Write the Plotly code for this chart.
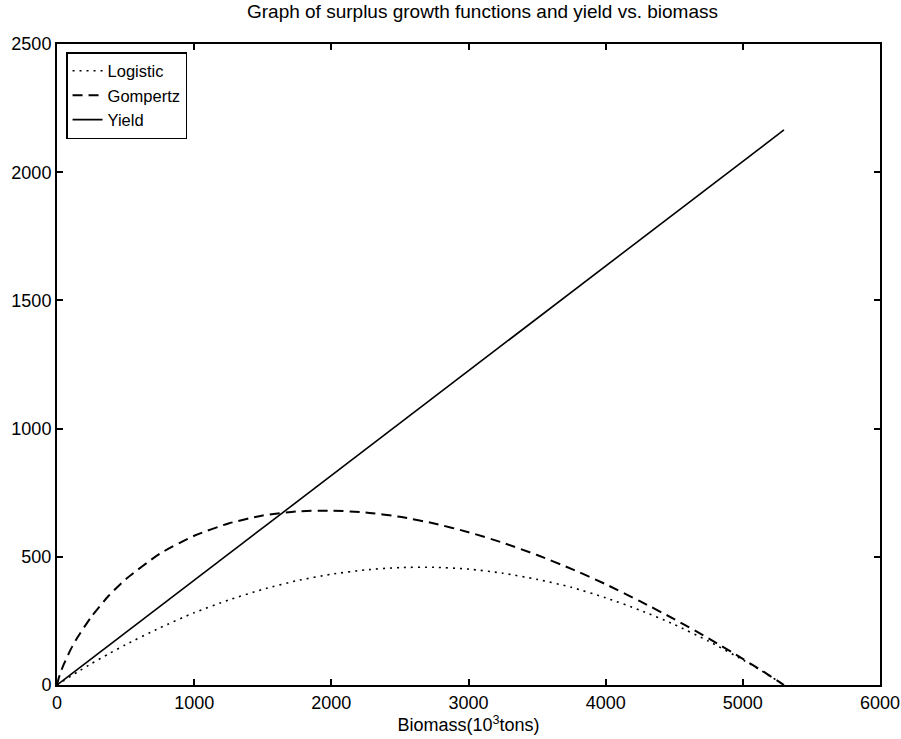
import plotly.graph_objects as go

# Biomass grid (10^3 tons) and curve values
biomass = [0, 10, 25, 50, 100, 150, 250, 375, 500, 750, 1000, 1250, 1500, 1750, 2000,
           2250, 2500, 2750, 3000, 3250, 3500, 3750, 4000, 4250, 4500, 4750, 5000,
           5150, 5300]
logistic = [0, 3.5, 8.7, 17, 34, 51, 83, 121, 157, 223, 282, 331, 373, 407, 432,
            449, 458, 459, 452, 436, 412, 381, 340, 292, 236, 171, 98,
            51, 0]
gompertz = [0, 22, 47, 81, 139, 186, 266, 347, 412, 512, 582, 630, 661, 677, 680,
            673, 656, 630, 596, 555, 507, 453, 393, 327, 257, 182, 102,
            52, 0]
yield_x = [0, 5300]
yield_y = [0, 2165]

x_ticks = [0, 1000, 2000, 3000, 4000, 5000, 6000]
y_ticks = [0, 500, 1000, 1500, 2000, 2500]

FONT = "Liberation Sans, Arial, Helvetica, sans-serif"

fig = go.Figure()
fig.add_trace(go.Scatter(x=biomass, y=logistic, mode="lines", name="Logistic",
                         line=dict(color="black", width=1.6, dash="2px,5px",
                                   shape="spline", smoothing=0.6)))
fig.add_trace(go.Scatter(x=biomass, y=gompertz, mode="lines", name="Gompertz",
                         line=dict(color="black", width=2, dash="10px,6px",
                                   shape="spline", smoothing=0.6)))
fig.add_trace(go.Scatter(x=yield_x, y=yield_y, mode="lines", name="Yield",
                         line=dict(color="black", width=1.6)))

axis_common = dict(showgrid=False, zeroline=False, showline=True, linecolor="black",
                   linewidth=2, mirror="ticks", ticks="inside", ticklen=6,
                   tickwidth=1.5, tickcolor="black", automargin=False,
                   tickfont=dict(family=FONT, size=18, color="black"))

fig.update_layout(
    width=901, height=739,
    paper_bgcolor="white", plot_bgcolor="white",
    margin=dict(l=57, r=21, t=44, b=54),
    title=dict(text="Graph of surplus growth functions and yield vs. biomass",
               x=0.517, xanchor="center", xref="paper", y=0.984, yanchor="middle",
               font=dict(family=FONT, size=19, color="black")),
    xaxis=dict(range=[0, 6000], tickvals=x_ticks,
               title=dict(text="Biomass(10<sup>3</sup>tons)", standoff=2,
                          font=dict(family=FONT, size=18, color="black")),
               **axis_common),
    yaxis=dict(range=[0, 2500], tickvals=y_ticks, **axis_common),
    legend=dict(x=0.011, y=0.9875, xanchor="left", yanchor="top",
                bgcolor="white", bordercolor="black", borderwidth=1.5,
                font=dict(family=FONT, size=16.5, color="black"),
                tracegroupgap=0, itemwidth=30),
    showlegend=True,
)

fig.write_html("out.html")
